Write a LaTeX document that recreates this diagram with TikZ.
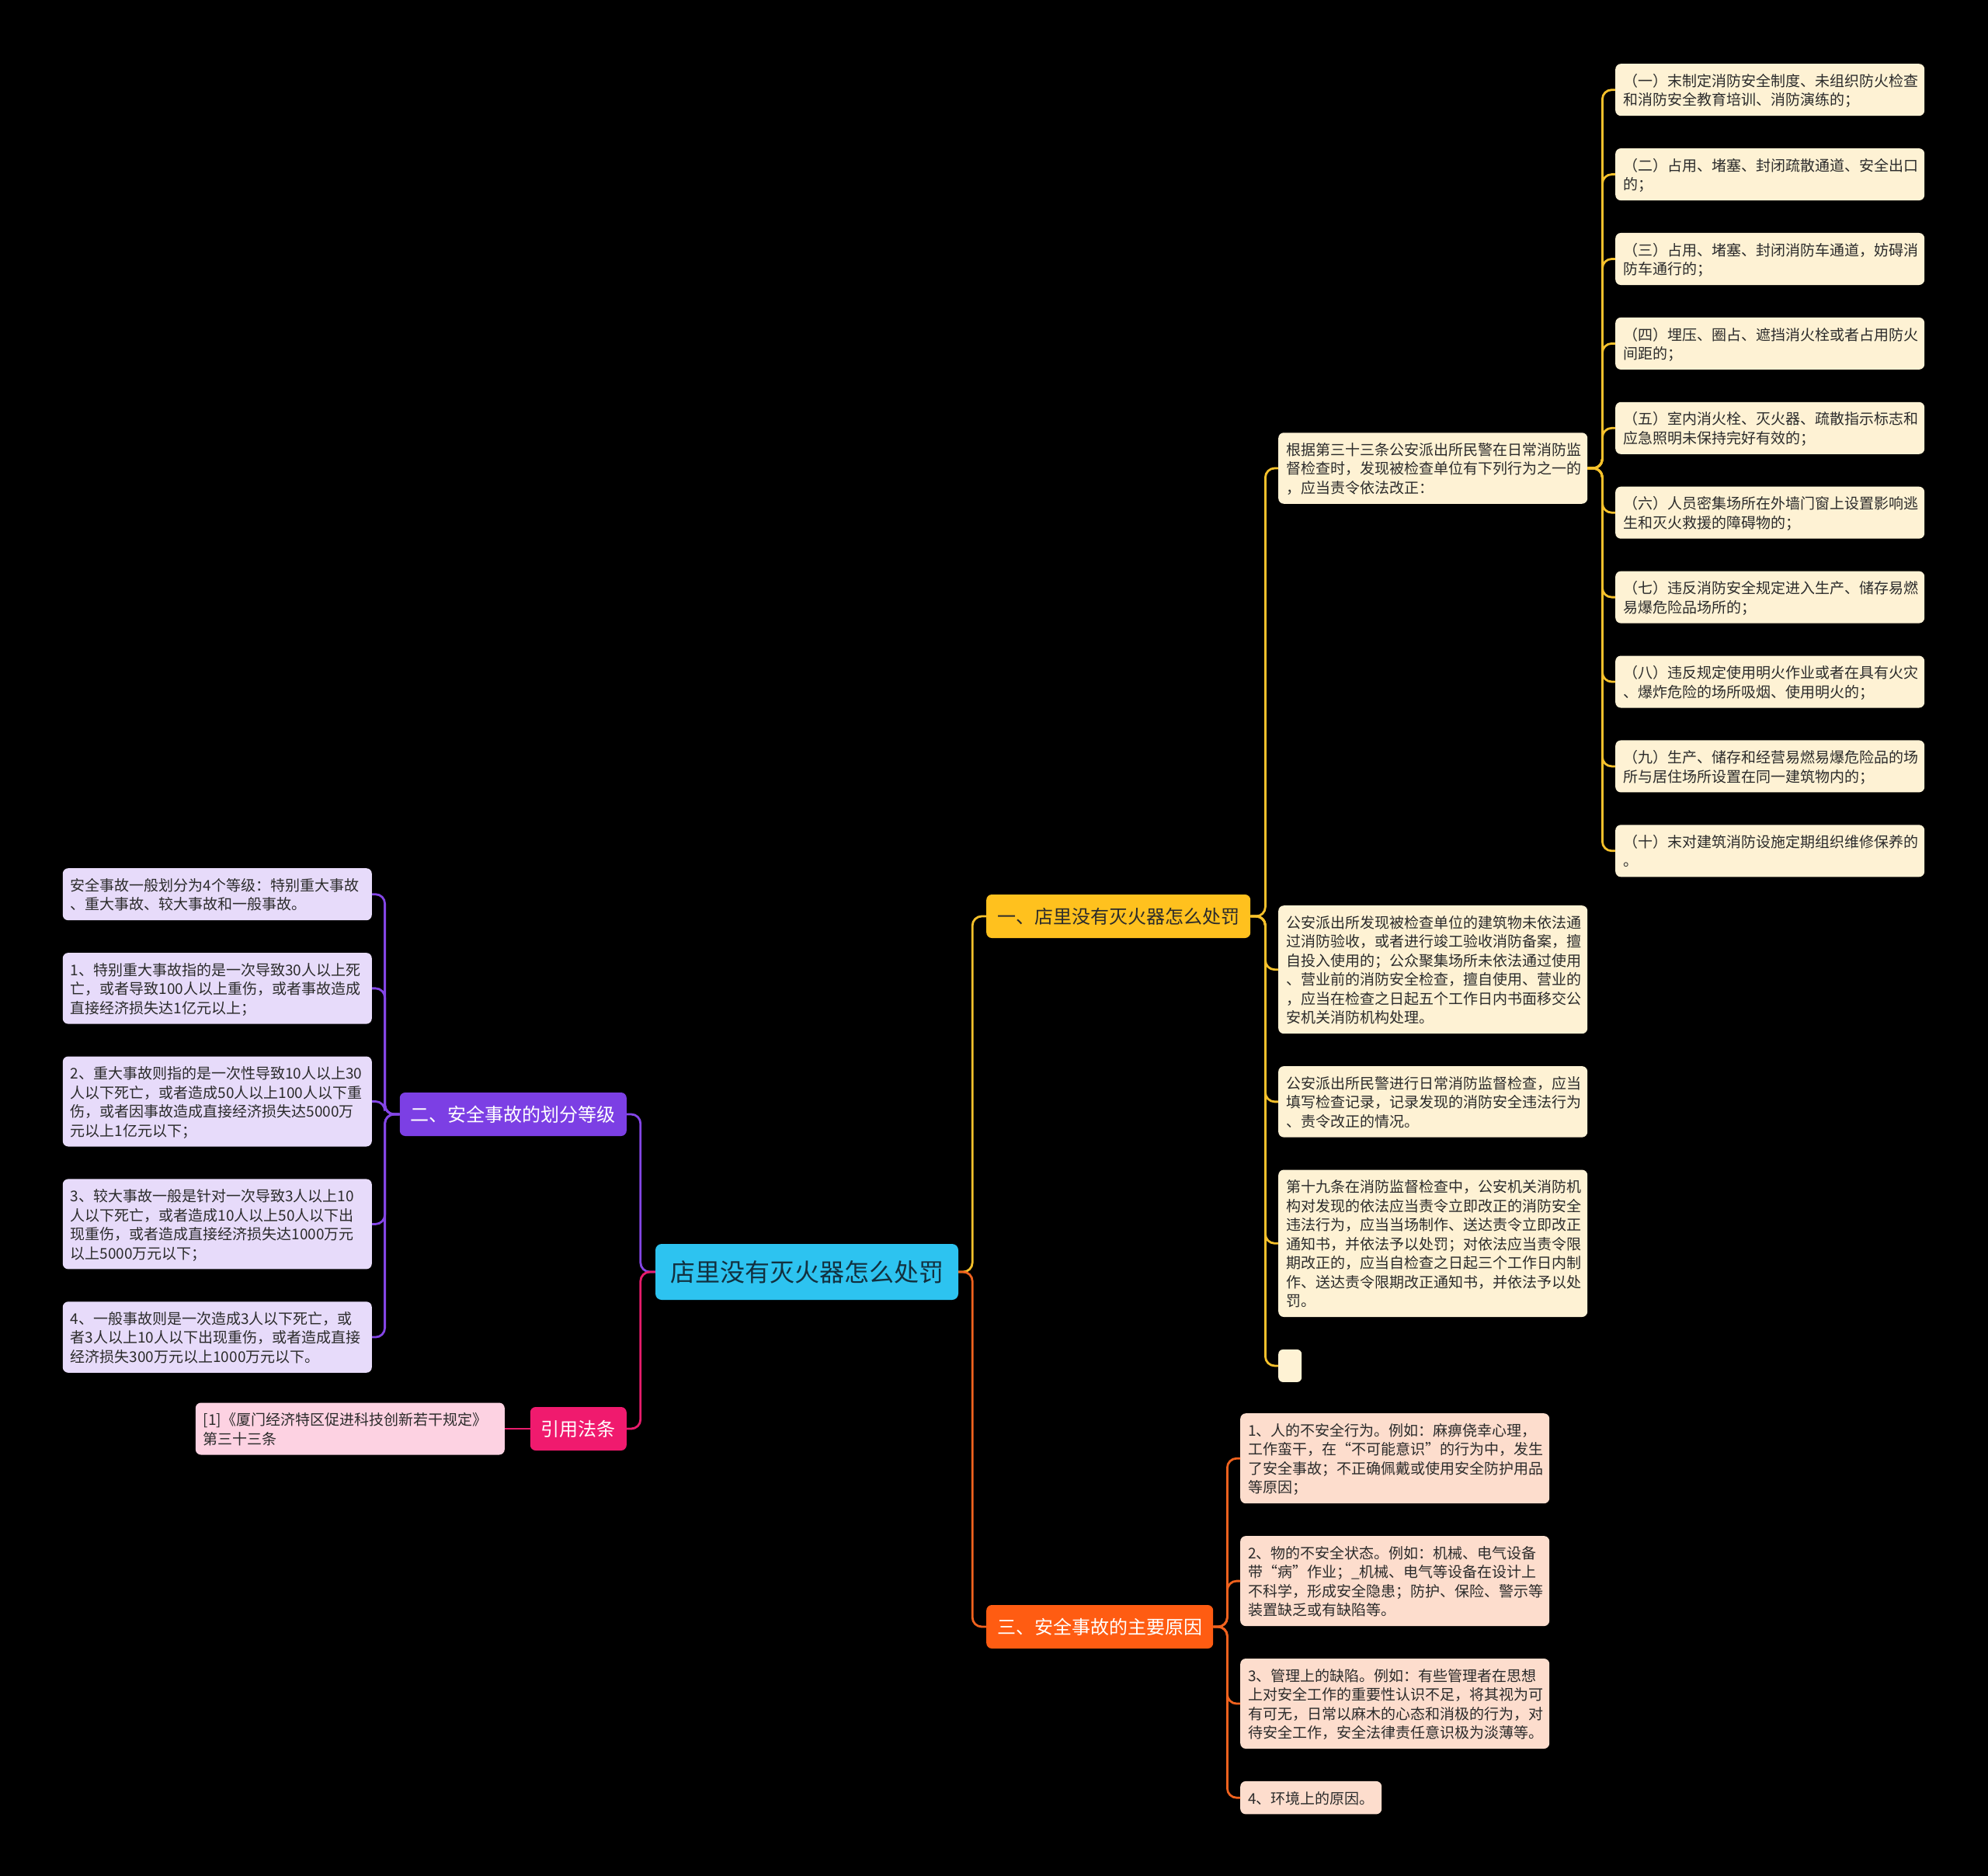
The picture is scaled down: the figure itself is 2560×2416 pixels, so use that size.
\documentclass[tikz,border=0pt]{standalone}
\usepackage{fontspec}
\setmainfont{Noto Sans CJK SC}
\usetikzlibrary{positioning}

\definecolor{ciano}{HTML}{2DC3F0}
\definecolor{ambar}{HTML}{FFC11E}
\definecolor{roxo}{HTML}{7C3FE4}
\definecolor{laranja}{HTML}{FF5C12}
\definecolor{rosa}{HTML}{F01A6E}
\definecolor{creme}{HTML}{FEF2D4}
\definecolor{lilas}{HTML}{E7DBFA}
\definecolor{pessego}{HTML}{FDDDCD}
\definecolor{rosaclaro}{HTML}{FDD2E2}
\definecolor{linamarela}{HTML}{F6C12B}
\definecolor{linroxa}{HTML}{8446E6}
\definecolor{linlaranja}{HTML}{F0621E}
\definecolor{linrosa}{HTML}{E81C6C}
\definecolor{tinta}{HTML}{2B2B2B}
\definecolor{tintaraiz}{HTML}{12303F}

\begin{document}
\begin{tikzpicture}[
		x=1pt, y=-1pt,
		raiz/.style={fill=ciano, text=tintaraiz, rounded corners=8pt, minimum width=390pt, minimum height=72pt, font=\fontsize{32}{38}\selectfont},
		ramo/.style={rounded corners=7pt, minimum height=56pt, inner xsep=14pt, font=\fontsize{24}{29}\selectfont},
		folha/.style={rounded corners=7pt, text=tinta, text width=378pt, align=left, inner xsep=10pt, inner ysep=9pt, font=\fontsize{19}{24.5}\selectfont, execute at begin node=\rule{0pt}{20.15pt}, execute at end node=\rule[-4.35pt]{0pt}{4.35pt}},
		lig/.style={line width=2.8pt, rounded corners=12pt}
	]

	\fill[black] (0,0) rectangle (2560,2416);

	% centro e ramos
	\node[raiz] (raiz) at (1039,1638) {店里没有灭火器怎么处罚};
	\node[ramo, fill=ambar, text=tinta, anchor=west] (b1) at (1270,1180) {一、店里没有灭火器怎么处罚};
	\node[ramo, fill=laranja, text=white, anchor=west] (b3) at (1270,2095) {三、安全事故的主要原因};
	\node[ramo, fill=roxo, text=white, anchor=east] (b2) at (807,1435) {二、安全事故的划分等级};
	\node[ramo, fill=rosa, text=white, anchor=east] (b4) at (807,1840) {引用法条};

	% ramo 1
	\node[folha, fill=creme, anchor=west] (c1a) at (1646,603) {根据第三十三条公安派出所民警在日常消防监\\督检查时，发现被检查单位有下列行为之一的\\，应当责令依法改正：};
	\node[folha, fill=creme, anchor=north west] (c1b) at (1646,1166) {公安派出所发现被检查单位的建筑物未依法通\\过消防验收，或者进行竣工验收消防备案，擅\\自投入使用的；公众聚集场所未依法通过使用\\、营业前的消防安全检查，擅自使用、营业的\\，应当在检查之日起五个工作日内书面移交公\\安机关消防机构处理。};
	\node[folha, fill=creme, below=41.5pt of c1b] (c1c) {公安派出所民警进行日常消防监督检查，应当\\填写检查记录，记录发现的消防安全违法行为\\、责令改正的情况。};
	\node[folha, fill=creme, below=41.5pt of c1c] (c1d) {第十九条在消防监督检查中，公安机关消防机\\构对发现的依法应当责令立即改正的消防安全\\违法行为，应当当场制作、送达责令立即改正\\通知书，并依法予以处罚；对依法应当责令限\\期改正的，应当自检查之日起三个工作日内制\\作、送达责令限期改正通知书，并依法予以处\\罚。};
	\node[fill=creme, rounded corners=6pt, inner sep=0pt, minimum width=30pt, minimum height=42pt, below right=41.5pt and 0pt of c1d.south west] (c1e) {};

	% itens do artigo
	\node[folha, fill=creme, anchor=north west] (g1) at (2080,82) {（一）末制定消防安全制度、未组织防火检查\\和消防安全教育培训、消防演练的；};
	\node[folha, fill=creme, below=41.5pt of g1] (g2) {（二）占用、堵塞、封闭疏散通道、安全出口\\的；};
	\node[folha, fill=creme, below=41.5pt of g2] (g3) {（三）占用、堵塞、封闭消防车通道，妨碍消\\防车通行的；};
	\node[folha, fill=creme, below=41.5pt of g3] (g4) {（四）埋压、圈占、遮挡消火栓或者占用防火\\间距的；};
	\node[folha, fill=creme, below=41.5pt of g4] (g5) {（五）室内消火栓、灭火器、疏散指示标志和\\应急照明未保持完好有效的；};
	\node[folha, fill=creme, below=41.5pt of g5] (g6) {（六）人员密集场所在外墙门窗上设置影响逃\\生和灭火救援的障碍物的；};
	\node[folha, fill=creme, below=41.5pt of g6] (g7) {（七）违反消防安全规定进入生产、储存易燃\\易爆危险品场所的；};
	\node[folha, fill=creme, below=41.5pt of g7] (g8) {（八）违反规定使用明火作业或者在具有火灾\\、爆炸危险的场所吸烟、使用明火的；};
	\node[folha, fill=creme, below=41.5pt of g8] (g9) {（九）生产、储存和经营易燃易爆危险品的场\\所与居住场所设置在同一建筑物内的；};
	\node[folha, fill=creme, below=41.5pt of g9] (g10) {（十）末对建筑消防设施定期组织维修保养的\\。};

	% ramo 2
	\node[folha, fill=lilas, anchor=north east] (p1) at (479,1118) {安全事故一般划分为4个等级：特别重大事故\\、重大事故、较大事故和一般事故。};
	\node[folha, fill=lilas, below=41.5pt of p1] (p2) {1、特别重大事故指的是一次导致30人以上死\\亡，或者导致100人以上重伤，或者事故造成\\直接经济损失达1亿元以上；};
	\node[folha, fill=lilas, below=41.5pt of p2] (p3) {2、重大事故则指的是一次性导致10人以上30\\人以下死亡，或者造成50人以上100人以下重\\伤，或者因事故造成直接经济损失达5000万\\元以上1亿元以下；};
	\node[folha, fill=lilas, below=41.5pt of p3] (p4) {3、较大事故一般是针对一次导致3人以上10\\人以下死亡，或者造成10人以上50人以下出\\现重伤，或者造成直接经济损失达1000万元\\以上5000万元以下；};
	\node[folha, fill=lilas, below=41.5pt of p4] (p5) {4、一般事故则是一次造成3人以下死亡，或\\者3人以上10人以下出现重伤，或者造成直接\\经济损失300万元以上1000万元以下。};

	% ramo 3
	\node[folha, fill=pessego, anchor=north west] (o1) at (1597,1820) {1、人的不安全行为。例如：麻痹侥幸心理，\\工作蛮干，在“不可能意识”的行为中，发生\\了安全事故；不正确佩戴或使用安全防护用品\\等原因；};
	\node[folha, fill=pessego, below=41.5pt of o1] (o2) {2、物的不安全状态。例如：机械、电气设备\\带“病”作业；\_机械、电气等设备在设计上\\不科学，形成安全隐患；防护、保险、警示等\\装置缺乏或有缺陷等。};
	\node[folha, fill=pessego, below=41.5pt of o2] (o3) {3、管理上的缺陷。例如：有些管理者在思想\\上对安全工作的重要性认识不足，将其视为可\\有可无，日常以麻木的心态和消极的行为，对\\待安全工作，安全法律责任意识极为淡薄等。};
	\node[folha, fill=pessego, text width=162pt, below right=41.5pt and 0pt of o3.south west] (o4) {4、环境上的原因。};

	% ramo 4
	\node[folha, fill=rosaclaro, anchor=east] (cit) at (650,1840) {[1]《厦门经济特区促进科技创新若干规定》\\第三十三条};

	% ligacoes
	\draw[lig, linamarela] (raiz.east) -- ++(18,0) |- (b1.west);
	\draw[lig, linlaranja] (raiz.east) -- ++(18,0) |- (b3.west);
	\draw[lig, linroxa] (raiz.west) -- ++(-19,0) |- (b2.east);
	\draw[lig, linrosa] (raiz.west) -- ++(-19,0) |- (b4.east);

	\draw[lig, linamarela] (b1.east) -- ++(19,0) |- (c1a.west);
	\draw[lig, linamarela] (b1.east) -- ++(19,0) |- (c1b.west);
	\draw[lig, linamarela] (b1.east) -- ++(19,0) |- (c1c.west);
	\draw[lig, linamarela] (b1.east) -- ++(19,0) |- (c1d.west);
	\draw[lig, linamarela] (b1.east) -- ++(19,0) |- (c1e.west);

	\draw[lig, linamarela] (c1a.east) -- ++(19,0) |- (g1.west);
	\draw[lig, linamarela] (c1a.east) -- ++(19,0) |- (g2.west);
	\draw[lig, linamarela] (c1a.east) -- ++(19,0) |- (g3.west);
	\draw[lig, linamarela] (c1a.east) -- ++(19,0) |- (g4.west);
	\draw[lig, linamarela] (c1a.east) -- ++(19,0) |- (g5.west);
	\draw[lig, linamarela] (c1a.east) -- ++(19,0) |- (g6.west);
	\draw[lig, linamarela] (c1a.east) -- ++(19,0) |- (g7.west);
	\draw[lig, linamarela] (c1a.east) -- ++(19,0) |- (g8.west);
	\draw[lig, linamarela] (c1a.east) -- ++(19,0) |- (g9.west);
	\draw[lig, linamarela] (c1a.east) -- ++(19,0) |- (g10.west);

	\draw[lig, linroxa] (b2.west) -- ++(-19,0) |- (p1.east);
	\draw[lig, linroxa] (b2.west) -- ++(-19,0) |- (p2.east);
	\draw[lig, linroxa] (b2.west) -- ++(-19,0) |- (p3.east);
	\draw[lig, linroxa] (b2.west) -- ++(-19,0) |- (p4.east);
	\draw[lig, linroxa] (b2.west) -- ++(-19,0) |- (p5.east);

	\draw[lig, linlaranja] (b3.east) -- ++(18,0) |- (o1.west);
	\draw[lig, linlaranja] (b3.east) -- ++(18,0) |- (o2.west);
	\draw[lig, linlaranja] (b3.east) -- ++(18,0) |- (o3.west);
	\draw[lig, linlaranja] (b3.east) -- ++(18,0) |- (o4.west);

	\draw[lig, linrosa] (b4.west) -- (cit.east);
\end{tikzpicture}
\end{document}
